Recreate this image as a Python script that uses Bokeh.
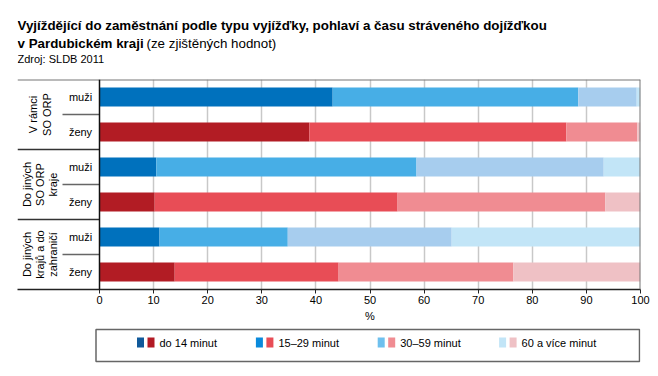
import numpy as np
from bokeh.plotting import figure
from bokeh.models import Range1d, FixedTicker, Span
from bokeh.layouts import column
from bokeh.core.properties import value
from bokeh.embed import file_html
from bokeh.resources import INLINE

FONT = "Liberation Sans"

# ---- data ----
groups = ["V rámci\nSO ORP", "Do jiných\nSO ORP\nkraje", "Do jiných\nkrajů a do\nzahraničí"]
sexes = ["muži", "ženy", "muži", "ženy", "muži", "ženy"]
series = ["do 14 minut", "15–29 minut", "30–59 minut", "60 a více minut"]
do14 = [43.1, 38.8, 10.5, 10.2, 11.1, 13.9]
min15_29 = [45.4, 47.5, 48.1, 44.9, 23.7, 30.3]
min30_59 = [10.8, 13.1, 34.6, 38.4, 30.3, 32.3]
min60 = [0.7, 0.6, 6.8, 6.5, 34.9, 23.5]
x_ticks = [0, 10, 20, 30, 40, 50, 60, 70, 80, 90, 100]

blues = ["#0071BD", "#47AEE6", "#A7CDEE", "#C2E5F7"]
reds = ["#B21C24", "#E84D56", "#F08C92", "#EFC1C5"]
leg_blues = ["#10599A", "#0A8ADC", "#6EC0EE", "#C2E5F7"]
leg_reds = ["#B21A24", "#E84D56", "#F08C92", "#EFC1C5"]

W = 658
BL, BR = 17, 18  # left / right borders shared by all stacked figures


def side_fig(h):
    f = figure(width=W, height=h, x_range=Range1d(BL, W - BR), y_range=Range1d(h, 0),
               x_axis_type=None, y_axis_type=None, output_backend="svg", toolbar_location=None,
               min_border_left=BL, min_border_right=BR, min_border_top=0, min_border_bottom=0)
    f.outline_line_color = None
    f.grid.visible = False
    return f


# ---- title figure ----
t = side_fig(77)
t.text(x=[17], y=[25], text=["Vyjíždějící do zaměstnání podle typu vyjížďky, pohlaví a času stráveného dojížďkou"],
       text_font=value(FONT), text_font_size="13.35px", text_font_style="bold",
       text_baseline="alphabetic", text_color="#000000")
t.text(x=[17], y=[43], text=["v Pardubickém kraji"],
       text_font=value(FONT), text_font_size="13.35px", text_font_style="bold",
       text_baseline="alphabetic", text_color="#000000")
t.text(x=[146], y=[43], text=["(ze zjištěných hodnot)"],
       text_font=value(FONT), text_font_size="13.35px",
       text_baseline="alphabetic", text_color="#000000")
t.text(x=[17], y=[58], text=["Zdroj: SLDB 2011"],
       text_font=value(FONT), text_font_size="11px",
       text_baseline="alphabetic", text_color="#000000")

# ---- main figure ----
px_per_unit = 5.41
x_start = -82 / px_per_unit
p = figure(width=W, height=232, x_range=Range1d(x_start, 100), y_range=Range1d(6, 0),
           y_axis_type=None, output_backend="svg", toolbar_location=None,
           min_border_left=BL, min_border_right=BR, min_border_top=2, min_border_bottom=20)
p.outline_line_color = None
p.background_fill_color = "white"

vals = np.array([do14, min15_29, min30_59, min60]).T
cum = np.cumsum(vals, axis=1)
lefts = cum - vals
ypos = np.arange(len(sexes)) + 0.5
for k in range(len(series)):
    cols = [blues[k] if s == "muži" else reds[k] for s in sexes]
    p.hbar(y=ypos, left=lefts[:, k], right=cum[:, k], height=0.54,
           fill_color=cols, line_color=None)

p.xaxis.ticker = FixedTicker(ticks=x_ticks)
p.xgrid.ticker = FixedTicker(ticks=x_ticks[1:-1])
p.xgrid.grid_line_color = "#C8C8C8"
p.xgrid.grid_line_width = 1.5
p.xaxis.axis_line_color = "#222222"
p.xaxis.axis_line_width = 1.5
p.xaxis.major_tick_in = 0
p.xaxis.major_tick_out = 4
p.xaxis.major_tick_line_color = "#222222"
p.xaxis.minor_tick_line_color = None
p.xaxis.major_label_text_font = FONT
p.xaxis.major_label_text_font_size = "11px"
p.xaxis.major_label_text_color = "#000000"
p.xaxis.major_label_standoff = 2

p.add_layout(Span(location=0, dimension="width", line_color="#777777", line_width=2))
p.add_layout(Span(location=100, dimension="height", line_color="#777777", line_width=2))
p.add_layout(Span(location=0, dimension="height", line_color="#111111", line_width=1.5))

# category labels
group_y = [1, 3, 5]
p.text(x=[(39.5 - 99) / px_per_unit] * 3, y=group_y, text=groups, angle=np.pi / 2,
       text_align="center", text_baseline="middle", text_font=value(FONT),
       text_font_size="11px", text_line_height=1.1, text_color="#000000")
p.text(x=[(80 - 99) / px_per_unit] * len(sexes), y=ypos, text=sexes,
       text_align="center", text_baseline="middle", text_font=value(FONT),
       text_font_size="11px", text_color="#000000")
inner_x0 = (62 - 99) / px_per_unit
p.segment(x0=[inner_x0] * 3, y0=group_y, x1=[0] * 3, y1=group_y,
          line_color="#666666", line_width=1.5)
p.segment(x0=[x_start] * 2, y0=[2, 4], x1=[0] * 2, y1=[2, 4],
          line_color="#333333", line_width=1.5)

# ---- legend figure (also carries the x-axis title) ----
LH = 376 - 77 - 232
lg = side_fig(LH)
lg.text(x=[369.5], y=[6], text=["%"], text_align="center", text_baseline="middle",
        text_font=value(FONT), text_font_size="11px", text_color="#000000")
lg.quad(left=[95.5], right=[639], top=[20], bottom=[52], fill_color=None,
        line_color="#666666", line_width=1.5)
item_x = [136.5, 255.4, 377.2, 498.6]
for i, name in enumerate(series):
    x0 = item_x[i]
    lg.rect(x=[x0 + 3.5], y=[33], width=7, height=10,
            fill_color=leg_blues[i], line_color=None)
    lg.rect(x=[x0 + 14], y=[33], width=7, height=10,
            fill_color=leg_reds[i], line_color=None)
    lg.text(x=[x0 + 22.5], y=[33.5], text=[name], text_align="left", text_baseline="middle",
            text_font=value(FONT), text_font_size="11px", text_color="#000000")

layout = column(t, p, lg, spacing=0)
open("out.html", "w").write(file_html(layout, INLINE))
